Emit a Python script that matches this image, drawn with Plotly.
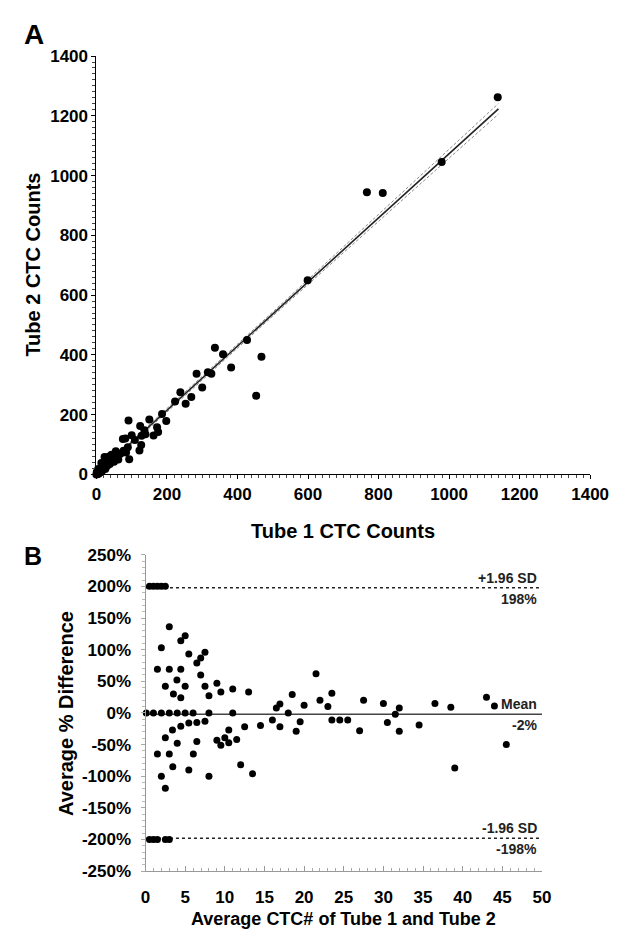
import plotly.graph_objects as go

# ---------------- Panel A data: Tube 1 vs Tube 2 CTC counts ----------------
tube1 = [1138, 979, 812, 767, 599, 336, 359, 427, 468, 382, 453, 284, 316, 326,
         300, 238, 269, 223, 253, 186, 198, 150, 172, 175, 162, 124, 136, 139,
         128, 127, 122, 91, 100, 109, 75, 82, 89, 77, 84, 93, 55, 68, 43, 47,
         36, 23, 27, 14, 18, 5, 1, 0, 2, 4, 6, 8, 10, 12, 15, 20, 25, 30, 33,
         38, 40, 50, 58, 62, 3, 7, 11, 17]
tube2 = [1262, 1045, 942, 944, 650, 424, 402, 450, 394, 358, 263, 337, 342, 337,
         291, 275, 259, 244, 236, 202, 179, 184, 158, 142, 130, 162, 148, 134,
         129, 98, 80, 180, 131, 115, 118, 120, 91, 79, 73, 51, 77, 69, 66, 49,
         60, 58, 40, 38, 22, 18, 8, 0, 4, 12, 2, 15, 6, 20, 10, 30, 18, 28, 45,
         35, 55, 42, 62, 50, 1, 5, 14, 25]

fit_slope = 1.073
fit_intercept = 0.0
fit_x = [0, 1140]
ci_half_end = 18.0      # half width of 95% CI band at the ends of the fit line
ci_half_mid = 5.0       # half width near the mean
ci_x_mean = 120.0

# ---------------- Panel B data: Bland-Altman style ----------------
avg_ctc = [0.5, 1.0, 1.5, 2.0, 2.5,
           0.5, 1.0, 1.5, 2.5, 3.0,
           0.1, 1.0, 2.0, 3.0, 4.0, 5.0, 6.0, 8.0, 11.0, 18.0,
           3.0, 2.0, 5.0, 4.45, 5.46, 7.5, 6.96, 6.47, 1.5, 3.0, 4.45, 6.96,
           3.96, 2.5, 5.0, 7.5, 9.0, 3.52, 4.45, 8.0, 9.5, 11.0, 13.0, 18.5,
           16.95, 16.5, 20.0,
           3.4, 4.45, 5.46, 6.47, 7.5, 10.5, 12.5, 14.5, 16.0, 16.95, 19.0, 19.5,
           1.5, 2.0, 2.5, 2.5, 4.0, 3.0, 3.44, 5.46, 6.03, 6.47, 8.0, 9.0, 9.5,
           10.0, 10.5, 11.5, 12.0, 13.5,
           21.5, 23.5, 22.0, 23.0, 27.5, 30.0, 32.0, 31.5, 36.5, 38.5, 43.0, 44.0,
           23.5, 24.5, 25.5, 27.0, 30.5, 32.0, 34.5, 45.5, 39.0]
pct_diff = [200, 200, 200, 200, 200,
            -200, -200, -200, -200, -200,
            0, 0, 0, 0, 0, 0, 0, 0, 0, 0,
            136, 103, 122, 114, 93, 96, 87, 79, 69, 69, 69, 60,
            52, 42, 42, 42, 47, 30, 24, 27, 33, 38, 33, 29,
            14, 8, 12,
            -27, -21, -16, -15, -13, -27, -22, -20, -11, -22, -29, -14,
            -65, -100, -119, -39, -48, -65, -85, -90, -65, -45, -100, -43, -51,
            -39, -47, -42, -82, -96,
            62, 31, 20, 10, 20, 15, 8, -2, 15, 9, 25, 11,
            -11, -11, -11, -28, -15, -29, -19, -50, -87]

mean_diff = -2
upper_loa = 198
lower_loa = -198
line_x = [-0.7, 50]

xA_ticks = [0, 200, 400, 600, 800, 1000, 1200, 1400]
yA_ticks = [0, 200, 400, 600, 800, 1000, 1200, 1400]
xB_ticks = [0, 5, 10, 15, 20, 25, 30, 35, 40, 45, 50]
yB_ticks = [250, 200, 150, 100, 50, 0, -50, -100, -150, -200, -250]
yB_labels = ["250%", "200%", "150%", "100%", "50%", "0%", "-50%", "-100%",
             "-150%", "-200%", "-250%"]

FONT = "Liberation Sans"
W, H = 638, 938


def px_x(p):
    return p / W


def px_y(p):
    return 1 - p / H


fig = go.Figure()

# ---- Panel A ----
# confidence band (dashed)
n_ci = 30
ci_xs = [fit_x[0] + (fit_x[1] - fit_x[0]) * i / (n_ci - 1) for i in range(n_ci)]
span = max(ci_x_mean - fit_x[0], fit_x[1] - ci_x_mean)
ci_half = [ci_half_mid + (ci_half_end - ci_half_mid) * ((x - ci_x_mean) / span) ** 2 for x in ci_xs]
fit_ys = [fit_intercept + fit_slope * x for x in ci_xs]
for sgn in (1, -1):
    fig.add_trace(go.Scatter(
        x=ci_xs, y=[y + sgn * h for y, h in zip(fit_ys, ci_half)],
        mode="lines", line=dict(color="#888888", width=1, dash="3px,2px"),
        xaxis="x", yaxis="y", hoverinfo="skip", showlegend=False))
fig.add_trace(go.Scatter(
    x=fit_x, y=[fit_intercept + fit_slope * x for x in fit_x],
    mode="lines", line=dict(color="#222222", width=1.6),
    xaxis="x", yaxis="y", showlegend=False))
fig.add_trace(go.Scatter(
    x=tube1, y=tube2, mode="markers",
    marker=dict(color="black", size=8),
    xaxis="x", yaxis="y", cliponaxis=False, showlegend=False))

# ---- Panel B ----
for yv, dash, col in ((upper_loa, "dot", "#222222"), (lower_loa, "dot", "#222222"),
                      (mean_diff, "solid", "#444444")):
    fig.add_trace(go.Scatter(
        x=line_x, y=[yv, yv], mode="lines",
        line=dict(color=col, width=1.5, dash=dash),
        xaxis="x2", yaxis="y2", cliponaxis=False, hoverinfo="skip", showlegend=False))
fig.add_trace(go.Scatter(
    x=avg_ctc, y=pct_diff, mode="markers",
    marker=dict(color="black", size=7),
    xaxis="x2", yaxis="y2", cliponaxis=False, showlegend=False))

tickfont = dict(family=FONT, size=17, color="black", weight="bold")

fig.update_layout(
    width=W, height=H,
    margin=dict(l=0, r=0, t=0, b=0),
    paper_bgcolor="white", plot_bgcolor="white",
    showlegend=False,
    xaxis=dict(domain=[px_x(95), px_x(608)], range=[0, 1400], anchor="y",
               tickvals=xA_ticks, ticktext=[str(v) for v in xA_ticks],
               showline=True, linecolor="black", linewidth=1,
               ticks="outside", ticklen=4, tickcolor="black",
               minor=dict(dtick=20, ticklen=3, ticks="outside", tickcolor="#444444"),
               tickfont=tickfont, showgrid=False, zeroline=False),
    yaxis=dict(domain=[px_y(475), px_y(48)], range=[0, 1400], anchor="x",
               tickvals=yA_ticks, ticktext=[str(v) for v in yA_ticks],
               showline=True, linecolor="black", linewidth=1,
               ticks="outside", ticklen=4, tickcolor="black",
               minor=dict(dtick=20, ticklen=3, ticks="outside", tickcolor="#444444"),
               tickfont=tickfont, showgrid=False, zeroline=False),
    xaxis2=dict(domain=[px_x(146), px_x(558)], range=[0, 50], anchor="y2",
                tickvals=xB_ticks, ticktext=[str(v) for v in xB_ticks],
                showline=True, linecolor="#999999", linewidth=1,
                ticks="inside", ticklen=5, tickcolor="#999999",
                ticklabelstandoff=10,
                minor=dict(dtick=1, ticklen=3, ticks="inside", tickcolor="#aaaaaa"),
                tickfont=tickfont, showgrid=False, zeroline=False),
    yaxis2=dict(domain=[px_y(880), px_y(557)], range=[-250, 250], anchor="x2",
                tickvals=yB_ticks, ticktext=yB_labels,
                showline=True, linecolor="#999999", linewidth=1,
                ticks="outside", ticklen=4, tickcolor="#aaaaaa",
                ticklabelstandoff=6,
                minor=dict(dtick=10, ticklen=3, ticks="outside", tickcolor="#bbbbbb"),
                tickfont=tickfont, showgrid=False, zeroline=False),
)

title_font = dict(family=FONT, size=20, color="black", weight="bold")
lab_font = dict(family=FONT, size=14, color="#222222", weight="bold")

annotations = [
    dict(text="A", x=px_x(18), y=px_y(26), xanchor="left", yanchor="middle",
         font=dict(family=FONT, size=28, color="black", weight="bold")),
    dict(text="B", x=px_x(18), y=px_y(558), xanchor="left", yanchor="middle",
         font=dict(family=FONT, size=25, color="black", weight="bold")),
    dict(text="Tube 1 CTC Counts", x=px_x(351), y=px_y(533), xanchor="center",
         yanchor="middle", font=title_font),
    dict(text="Tube 2 CTC Counts", x=px_x(29), y=px_y(261), xanchor="center",
         yanchor="middle", textangle=-90, font=title_font),
    dict(text="Average CTC# of Tube 1 and Tube 2", x=px_x(352), y=0,
         xanchor="center", yanchor="bottom", yshift=-3,
         font=dict(family=FONT, size=18, color="black", weight="bold")),
    dict(text="Average % Difference", x=px_x(64), y=px_y(719), xanchor="center",
         yanchor="middle", textangle=-90, font=title_font),
]
for txt, yv, anc, ys in (("+1.96 SD", upper_loa, "bottom", 0), ("198%", upper_loa, "top", -1),
                         ("Mean", mean_diff, "bottom", 0), ("-2%", mean_diff, "top", -1),
                         ("-1.96 SD", lower_loa, "bottom", 0), ("-198%", lower_loa, "top", -1)):
    annotations.append(dict(text=txt, x=px_x(555), xref="paper", y=yv, yref="y2",
                            xanchor="right", yanchor=anc, yshift=ys, showarrow=False,
                            font=lab_font))
for a in annotations:
    a.setdefault("xref", "paper")
    a.setdefault("yref", "paper")
    a.setdefault("showarrow", False)
fig.update_layout(annotations=annotations)

fig.write_html("out.html")
